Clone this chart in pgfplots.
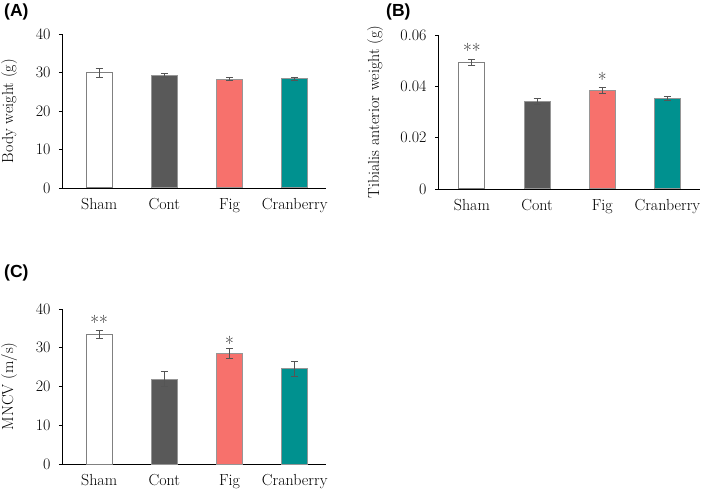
\documentclass[border=0pt]{standalone}
\usepackage{fontspec}
\newfontfamily\arialf{Liberation Sans}
\usepackage{pgfplots}
\pgfplotsset{compat=1.18}
\definecolor{contc}{RGB}{89,89,89}
\definecolor{figc}{RGB}{247,113,108}
\definecolor{cranc}{RGB}{0,145,143}
\definecolor{edgec}{RGB}{150,150,150}
\definecolor{errc}{RGB}{85,85,85}
\pgfplotsset{
  myax/.style={
    scale only axis, anchor=south west,
    axis x line=bottom, axis y line=left,
    axis line style={-, black, line width=0.8pt},
    xmin=-0.5, xmax=3.5, ymin=0,
    xtick={0,1,2,3}, xticklabels={Sham,Cont,Fig,Cranberry},
    x tick style={draw=none},
    y tick style={black, line width=0.8pt},
    tick align=outside, major tick length=3pt,
    /pgf/number format/assume math mode=true,
    tick label style={font=\fontsize{16}{18}\selectfont, text=black},
    label style={font=\fontsize{16}{18}\selectfont, text=black},
    xticklabel style={yshift=-4pt},
    yticklabel style={xshift=-5pt},
    clip=false,
  },
  mybar/.style={ybar, bar width=26pt, bar shift=0pt, line width=1pt,
    error bars/y dir=both, error bars/y explicit,
    error bars/error bar style={errc, line width=0.9pt},
    error bars/error mark options={errc, line width=0.9pt, rotate=90, mark size=3.5pt}},
  stars/.style={only marks, mark=none, nodes near coords, point meta=explicit symbolic,
    nodes near coords style={anchor=base, inner sep=0pt, font=\fontsize{19}{21}\selectfont, text=black!85}},
}
\begin{document}
\begin{tikzpicture}
\useasboundingbox (0pt,0pt) rectangle (709pt,490pt);
% Panel A
\begin{axis}[myax, at={(62pt,302pt)}, width=264pt, height=154pt,
  xmin=-0.57, xmax=3.48,
  ymax=40, ytick={0,10,20,30,40},
  ylabel={Body weight (g)},
  ylabel style={at={(axis description cs:-0.2,0.5)}, anchor=center}]
\addplot[mybar, fill=white, draw=gray] coordinates {(0,29.9) +- (0,1.1)};
\addplot[mybar, fill=contc, draw=edgec] coordinates {(1,29.2) +- (0,0.45)};
\addplot[mybar, fill=figc, draw=edgec] coordinates {(2,28.3) +- (0,0.3)};
\addplot[mybar, fill=cranc, draw=edgec] coordinates {(3,28.4) +- (0,0.4)};
\end{axis}
% Panel B
\begin{axis}[myax, at={(438pt,301pt)}, width=262pt, height=154pt,
  xmin=-0.52, xmax=3.5,
  ymax=0.06, ytick={0,0.02,0.04,0.06},
  yticklabels={0,0.02,0.04,0.06},
  scaled y ticks=false,
  ylabel={Tibialis anterior weight (g)},
  ylabel style={at={(axis description cs:-0.24,0.5)}, anchor=center}]
\addplot[mybar, fill=white, draw=gray] coordinates {(0,0.0494) +- (0,0.0012)};
\addplot[mybar, fill=contc, draw=edgec] coordinates {(1,0.0342) +- (0,0.0011)};
\addplot[mybar, fill=figc, draw=edgec] coordinates {(2,0.0383) +- (0,0.0012)};
\addplot[mybar, fill=cranc, draw=edgec] coordinates {(3,0.0352) +- (0,0.0008)};
\addplot[stars] coordinates {(0,0.0513)[**] (2,0.0400)[*]};
\end{axis}
% Panel C
\begin{axis}[myax, at={(62pt,26pt)}, width=264pt, height=155pt,
  xmin=-0.57, xmax=3.48,
  ymax=40, ytick={0,10,20,30,40},
  ylabel={MNCV (m/s)},
  ylabel style={at={(axis description cs:-0.2,0.5)}, anchor=center}]
\addplot[mybar, fill=white, draw=gray] coordinates {(0,33.5) +- (0,1.0)};
\addplot[mybar, fill=contc, draw=edgec] coordinates {(1,21.9) +- (0,1.9)};
\addplot[mybar, fill=figc, draw=edgec] coordinates {(2,28.5) +- (0,1.3)};
\addplot[mybar, fill=cranc, draw=edgec] coordinates {(3,24.6) +- (0,1.9)};
\addplot[stars] coordinates {(0,34.6)[**] (2,29.2)[*]};
\end{axis}
\node[anchor=west, inner sep=0pt, font=\arialf\bfseries\fontsize{17.5}{19}\selectfont] at (4pt,478pt) {(A)};
\node[anchor=west, inner sep=0pt, font=\arialf\bfseries\fontsize{17.5}{19}\selectfont] at (386pt,478pt) {(B)};
\node[anchor=west, inner sep=0pt, font=\arialf\bfseries\fontsize{17.5}{19}\selectfont] at (4pt,217pt) {(C)};
\end{tikzpicture}
\end{document}
